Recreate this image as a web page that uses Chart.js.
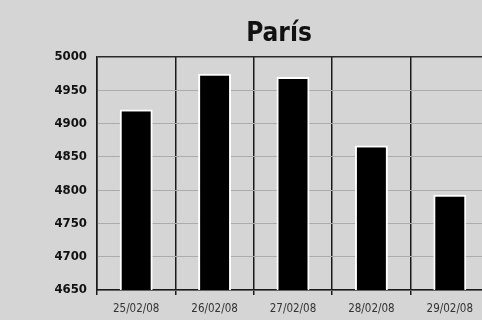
<!DOCTYPE html>
<html>
<head>
<meta charset="utf-8">
<script src="https://cdn.jsdelivr.net/npm/chart.js@4/dist/chart.umd.min.js"></script>
<style>
  html, body { margin: 0; padding: 0; background: #d5d5d5; overflow: hidden; }
  .wrap { width: 558px; height: 320px; }
</style>
</head>
<body>
<div class="wrap"><canvas id="paris"></canvas></div>
<script>
const fechas = ["25/02/08", "26/02/08", "27/02/08", "28/02/08", "29/02/08"];
const puntos = [4921, 4975, 4970, 4867, 4793];
const yMin = 4650;
const yMax = 5000;
const yStep = 50;

const narrow = "'DejaVu Sans Condensed', 'Liberation Sans Narrow', Arial, sans-serif";

const ctx = document.getElementById("paris").getContext("2d");
new Chart(ctx, {
  type: "bar",
  data: {
    labels: fechas,
    datasets: [{
      label: "París",
      data: puntos,
      backgroundColor: "#000",
      borderColor: "#fff",
      borderWidth: 2,
      categoryPercentage: 1,
      barPercentage: 0.42,
    }]
  },
  options: {
    responsive: true,
    maintainAspectRatio: false,
    animation: false,
    layout: { padding: 0 },
    plugins: {
      legend: { display: false },
      tooltip: { enabled: false },
      title: {
        display: true,
        text: "París",
        color: "#111",
        font: { family: narrow, size: 26, weight: "bold", lineHeight: 1.2 },
        padding: { top: 19, bottom: 6.8 }
      }
    },
    scales: {
      x: {
        grid: {
          offset: true,
          color: "#1a1a1a",
          lineWidth: 1.5,
          drawTicks: true,
          tickLength: 5
        },
        border: { display: true, color: "#1a1a1a", width: 1.5 },
        ticks: {
          color: "#333",
          padding: 7,
          font: { family: narrow, size: 11.5 },
          maxRotation: 0
        },
        afterFit: s => { s.height = 30; }
      },
      y: {
        min: yMin,
        max: yMax,
        grid: {
          drawTicks: false,
          color: c => c.tick && c.tick.value === yMax ? "#2a2a2a" : "#ababab",
          lineWidth: c => c.tick && c.tick.value === yMax ? 1.5 : 1
        },
        border: { display: true, color: "#1a1a1a", width: 1.5 },
        ticks: {
          stepSize: yStep,
          color: "#111",
          padding: 10,
          font: { family: narrow, size: 13, weight: "bold" },
          callback: v => String(v)
        },
        afterFit: s => { s.width = 97; }
      },
      derecha: {
        position: "right",
        display: true,
        grid: { display: false, drawTicks: false },
        border: { display: false },
        ticks: { display: false },
        afterFit: s => { s.width = 69; }
      }
    }
  }
});
</script>
</body>
</html>
